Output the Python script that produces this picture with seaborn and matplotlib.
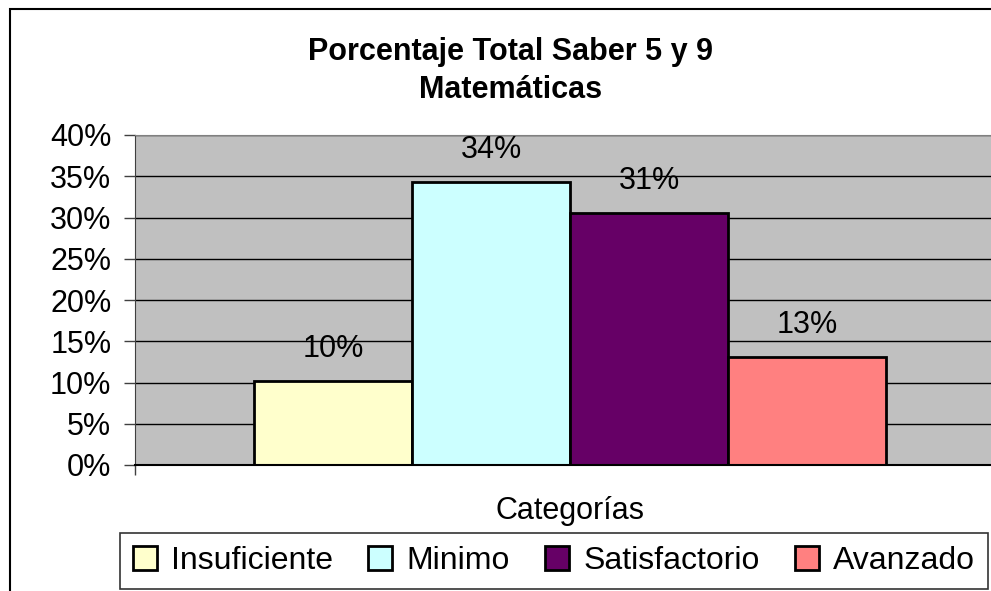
import pandas as pd
import matplotlib
matplotlib.use("Agg")
import matplotlib.pyplot as plt
import seaborn as sns
from matplotlib.patches import Rectangle
from matplotlib.ticker import PercentFormatter


niveles = ["Insuficiente", "Minimo", "Satisfactorio", "Avanzado"]
porcentajes = [0.102, 0.343, 0.306, 0.131]
colores = ["#FFFFCC", "#CCFFFF", "#660066", "#FF8080"]
y_ticks = [0, 0.05, 0.10, 0.15, 0.20, 0.25, 0.30, 0.35, 0.40]

df = pd.DataFrame({"grupo": [""] * len(niveles), "nivel": niveles, "valor": porcentajes})

sns.set_style("white")
plt.rcParams["font.family"] = ["Liberation Sans", "DejaVu Sans"]
plt.rcParams["text.color"] = "black"
plt.rcParams["axes.labelcolor"] = "black"
plt.rcParams["ytick.labelcolor"] = "black"

fig = plt.figure(figsize=(9.91, 5.91), dpi=100)
ax = fig.add_axes([135 / 991, 1 - 465 / 591, 870 / 991, 330 / 591])
ax.set_facecolor("#C0C0C0")

sns.barplot(data=df, x="grupo", y="valor", hue="nivel", hue_order=niveles,
            palette=colores, width=0.7264, edgecolor="black", linewidth=2,
            saturation=1, ax=ax, legend=True)

for cont in ax.containers:
    ax.bar_label(cont, fmt=lambda v: f"{v:.0%}", padding=12, fontsize=22, color="black")

ax.set_xlim(-0.5, 0.5)
ax.set_ylim(0, 0.40)
ax.set_yticks(y_ticks)
ax.yaxis.set_major_formatter(PercentFormatter(1.0, decimals=0))
ax.tick_params(axis="y", labelsize=22, length=8, width=1, color="#404040",
               labelcolor="black", direction="out", left=True, pad=9)
ax.set_xticks([])
ax.set_xticks([-0.5], minor=True)
ax.tick_params(axis="x", which="minor", length=7, width=1, color="#404040", direction="out", bottom=True)
ax.grid(axis="y", color="black", linewidth=1)
ax.set_axisbelow(True)
for side in ["top", "right"]:
    ax.spines[side].set_color("#808080")
ax.spines["left"].set_color("#404040")
ax.spines["bottom"].set_color("black")
ax.spines["bottom"].set_linewidth(1.5)
ax.set_ylabel("")
ax.set_xlabel("Categorías", fontsize=22, labelpad=12, color="black")

fig.text(0.515, 1 - 71 / 591, "Porcentaje Total Saber 5 y 9\nMatemáticas",
         ha="center", va="center", fontsize=22, fontweight="bold", linespacing=1.35,
         color="black")

handles, labels = ax.get_legend_handles_labels()
ax.get_legend().remove()
leg = fig.legend(handles, labels, loc="lower left", bbox_to_anchor=(120 / 991, 2 / 591),
                 ncol=4, fontsize=23, frameon=True, fancybox=False, edgecolor="black",
                 handlelength=0.75, handleheight=0.75, handletextpad=0.45, columnspacing=1.1,
                 borderpad=0.4, borderaxespad=0)
leg.get_frame().set_linewidth(1.2)

fig.patches.append(Rectangle((10 / 991, -0.05), 1.2, 1 - 9 / 591 + 0.05,
                             transform=fig.transFigure, fill=False,
                             edgecolor="black", linewidth=1.5, zorder=-1))

fig.savefig("out.png", dpi=100, facecolor="white")
